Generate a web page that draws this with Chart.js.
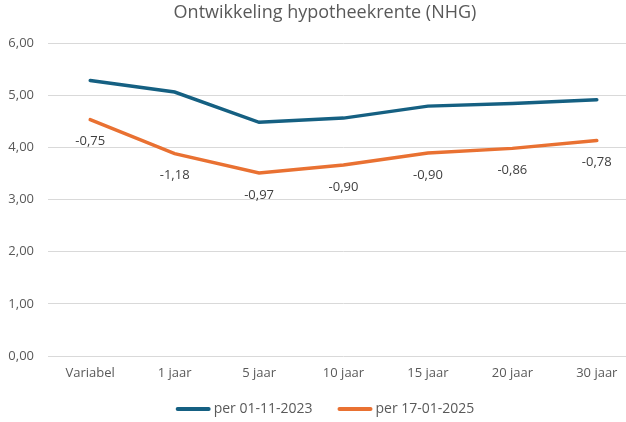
<!DOCTYPE html>
<html><head><meta charset="utf-8">
<script src="https://cdn.jsdelivr.net/npm/chart.js@4"></script>
<style>
html,body{margin:0;padding:0;background:#fff;overflow:hidden;}
#wrap{width:640px;height:422px;position:relative;}
</style></head>
<body><div id="wrap"><canvas id="c"></canvas></div>
<script>
const categories = ["Variabel","1 jaar","5 jaar","10 jaar","15 jaar","20 jaar","30 jaar"];
const series2023 = [5.28,5.06,4.48,4.56,4.79,4.84,4.91];
const series2025 = [4.53,3.88,3.51,3.66,3.89,3.98,4.13];
const diffLabels = ["-0,75","-1,18","-0,97","-0,90","-0,90","-0,86","-0,78"];
const yTicks = [0,1,2,3,4,5,6];
const titleText = 'Ontwikkeling hypotheekrente (NHG)';
const seriesNames = ['per 01-11-2023','per 17-01-2025'];

const FONT = "'Open Sans', 'Noto Sans', sans-serif";
const CENTER_X = 325;

const decorPlugin = {
  id:'decor',
  afterDatasetsDraw(chart){
    const ctx = chart.ctx;
    ctx.save();
    const meta = chart.getDatasetMeta(1);
    ctx.font = "13px " + FONT;
    ctx.fillStyle = "#404040";
    ctx.textAlign = "center";
    ctx.textBaseline = "middle";
    meta.data.forEach((pt,i)=>{ ctx.fillText(diffLabels[i], pt.x, pt.y + 22); });
    // title
    ctx.font = "18px " + FONT;
    ctx.fillStyle = "#595959";
    ctx.fillText(titleText, CENTER_X, 13);
    // legend
    ctx.font = "14px " + FONT;
    const boxW = 35, gap = 3, itemGap = 25;
    const widths = seriesNames.map(n => boxW + gap + ctx.measureText(n).width);
    const total = widths.reduce((a,b)=>a+b,0) + itemGap*(widths.length-1);
    let x = CENTER_X - total/2;
    const y = 409;
    chart.data.datasets.forEach((ds,i)=>{
      ctx.strokeStyle = ds.borderColor;
      ctx.lineWidth = 4;
      ctx.lineCap = 'round';
      ctx.beginPath(); ctx.moveTo(x+2, y); ctx.lineTo(x+boxW-2, y); ctx.stroke();
      ctx.fillStyle = '#595959';
      ctx.textAlign = 'left';
      ctx.fillText(seriesNames[i], x + boxW + gap, y);
      x += widths[i] + itemGap;
    });
    ctx.restore();
  }
};

new Chart(document.getElementById('c'), {
  type:'line',
  data:{
    labels:categories,
    datasets:[
      {label:seriesNames[0], data:series2023, borderColor:'#156082', backgroundColor:'#156082', borderWidth:3.5, pointRadius:0, tension:0, borderCapStyle:'round'},
      {label:seriesNames[1], data:series2025, borderColor:'#E97132', backgroundColor:'#E97132', borderWidth:3.5, pointRadius:0, tension:0, borderCapStyle:'round'}
    ]
  },
  options:{
    responsive:true, maintainAspectRatio:false, animation:false,
    layout:{padding:{left:0,right:1,top:43,bottom:42}},
    plugins:{ title:{display:false}, legend:{display:false}, tooltip:{enabled:false} },
    scales:{
      x:{offset:true, grid:{display:false, offset:true}, border:{display:false},
         afterFit(s){s.height=24;},
         ticks:{color:'#595959', font:{family:FONT,size:13}, padding:1}},
      y:{min:0,max:6, afterBuildTicks(s){s.ticks = yTicks.map(v=>({value:v}));},
         afterFit(s){s.width=48;},
         grid:{color:'#d9d9d9', drawTicks:false, lineWidth:1}, border:{display:false},
         ticks:{color:'#595959', font:{family:FONT,size:13}, padding:14, callback:v=>v.toFixed(2).replace('.',',')}}
    }
  },
  plugins:[decorPlugin]
});
</script></body></html>
